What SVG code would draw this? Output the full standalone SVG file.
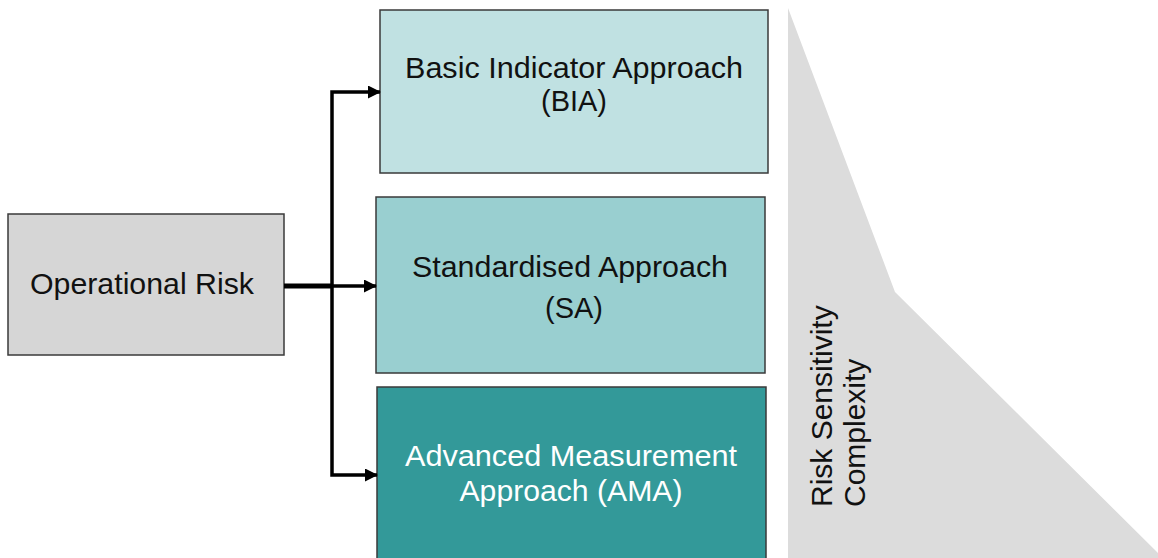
<svg xmlns="http://www.w3.org/2000/svg" width="1158" height="558" viewBox="0 0 1158 558">
<style>
.box{stroke:#3a3a3a;stroke-width:1.5}
.t{font-family:"Liberation Sans",Arial,sans-serif;font-size:29px;fill:#111;text-anchor:middle}
.w{fill:#ffffff}
.side{font-family:"Liberation Sans",Arial,sans-serif;font-size:30px;fill:#111}
.c{fill:none;stroke:#000;stroke-width:3.5}
</style>
<defs>
<marker id="ah" markerUnits="userSpaceOnUse" markerWidth="14" markerHeight="14" refX="12" refY="6.5" orient="auto">
<path d="M0,0 L13,6.5 L0,13 Z" fill="#000"/>
</marker>
</defs>
<rect width="1158" height="558" fill="#ffffff"/>
<polygon points="788,8 895,292 1158,553 1158,558 788,558" fill="#dcdcdc"/>
<g id="side-label">
<text class="side" transform="translate(832,507) rotate(-90)">Risk Sensitivity</text>
<text class="side" transform="translate(865,507) rotate(-90)">Complexity</text>
</g>
<g id="operational-risk">
<rect class="box" x="8" y="214" width="276" height="141" fill="#d6d6d6"/>
<text class="t" x="142" y="294" textLength="224" lengthAdjust="spacingAndGlyphs">Operational Risk</text>
</g>
<g id="bia">
<rect class="box" x="380" y="10" width="388" height="163" fill="#c0e1e2"/>
<text class="t" x="574" y="78" textLength="338" lengthAdjust="spacingAndGlyphs">Basic Indicator Approach</text>
<text class="t" x="574" y="111">(BIA)</text>
</g>
<g id="sa">
<rect class="box" x="376" y="197" width="389" height="176" fill="#99cfd0"/>
<text class="t" x="570" y="277" textLength="316" lengthAdjust="spacingAndGlyphs">Standardised Approach</text>
<text class="t" x="574" y="318">(SA)</text>
</g>
<g id="ama">
<rect class="box" x="377" y="387" width="389" height="180" fill="#339999"/>
<text class="t w" x="571" y="466" textLength="332" lengthAdjust="spacingAndGlyphs">Advanced Measurement</text>
<text class="t w" x="571" y="501" textLength="223" lengthAdjust="spacingAndGlyphs">Approach (AMA)</text>
</g>
<g id="connectors">
<path d="M284,286 H333" fill="none" stroke="#000" stroke-width="5"/>
<path class="c" d="M332,286 V92 H380" marker-end="url(#ah)"/>
<path class="c" d="M332,286 H376" marker-end="url(#ah)"/>
<path class="c" d="M332,286 V475 H377" marker-end="url(#ah)"/>
</g>
</svg>
